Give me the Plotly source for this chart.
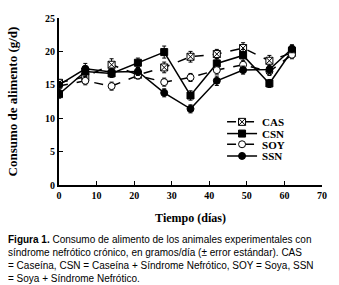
import plotly.graph_objects as go

days = [0, 7, 14, 21, 28, 35, 42, 49, 56, 62]
cas = [15.3, 16.2, 18.0, 16.5, 17.6, 19.2, 19.6, 20.5, 18.6, 19.8]
cas_se = [0.5, 0.6, 0.9, 0.6, 0.8, 0.8, 0.7, 0.8, 0.8, 0.6]
csn = [13.6, 17.0, 16.7, 18.3, 19.9, 13.4, 18.2, 19.4, 15.2, 20.1]
csn_se = [0.6, 0.8, 0.6, 0.7, 0.9, 0.7, 0.7, 0.9, 0.6, 0.7]
soy = [14.8, 15.6, 14.8, 16.4, 15.4, 16.1, 17.2, 18.0, 17.0, 19.5]
soy_se = [0.5, 0.6, 0.6, 0.5, 0.6, 0.6, 0.6, 0.6, 0.6, 0.6]
ssn = [15.0, 17.4, 16.9, 17.0, 13.8, 11.4, 15.6, 17.2, 17.3, 20.4]
ssn_se = [0.5, 0.8, 0.6, 0.6, 0.6, 0.6, 0.7, 0.6, 0.6, 0.6]

serif = "Liberation Serif, Times New Roman, serif"
sans = "Liberation Sans, Arial, sans-serif"

def tr(name, y, se, symbol, dash, fill, leg):
    return go.Scatter(
        x=days, y=y, name=name, mode="lines+markers", legend=leg,
        line=dict(color="black", width=1.5, dash=dash),
        marker=dict(symbol=symbol, size=7, color=fill,
                    line=dict(color="black", width=1)),
        error_y=dict(type="data", array=se, color="black", thickness=1, width=2),
    )

fig = go.Figure([
    tr("CAS", cas, cas_se, "square-x", "dash", "white", "legend"),
    tr("CSN", csn, csn_se, "square", "solid", "black", "legend2"),
    tr("SOY", soy, soy_se, "circle", "dash", "white", "legend3"),
    tr("SSN", ssn, ssn_se, "circle", "solid", "black", "legend4"),
])

axis_common = dict(showline=True, linecolor="black", linewidth=2, ticks="inside",
                   ticklen=4, tickcolor="black", showgrid=False, zeroline=False,
                   ticklabeloverflow="allow",
                   tickfont=dict(family=serif, size=10, color="black", weight="bold"))

def leg(ypos):
    return dict(x=0.62, y=ypos, xanchor="left", yanchor="middle",
                font=dict(family=serif, size=11, color="black", weight="bold"),
                bgcolor="rgba(0,0,0,0)", itemwidth=30)

fig.update_layout(
    width=339, height=285,
    margin=dict(l=57, r=12, t=13, b=100),
    plot_bgcolor="white", paper_bgcolor="white",
    showlegend=True,
    legend=leg(0.378), legend2=leg(0.308), legend3=leg(0.244), legend4=leg(0.174),
    xaxis=dict(range=[0, 70], tickvals=[0, 10, 20, 30, 40, 50, 60, 70],
               title=dict(text="Tiempo (días)", standoff=14,
                          font=dict(family=serif, size=12, color="black", weight="bold")),
               **axis_common),
    yaxis=dict(range=[0, 25], tickvals=[0, 5, 10, 15, 20, 25],
               title=dict(text="Consumo de alimento (g/d)", standoff=24,
                          font=dict(family=serif, size=13, color="black", weight="bold")),
               **axis_common),
)

caption = ("<b>Figura 1.</b> Consumo de alimento de los animales experimentales con<br>"
           "síndrome nefrótico crónico, en gramos/día (± error estándar). CAS<br>"
           "= Caseína, CSN = Caseína + Síndrome Nefrótico, SOY = Soya, SSN<br>"
           "= Soya + Síndrome Nefrótico.")
fig.add_annotation(text=caption, xref="paper", yref="paper",
                   x=-54/270, y=-48/172, xanchor="left", yanchor="top",
                   align="left", showarrow=False,
                   font=dict(family=sans, size=10, color="black"))

fig.write_html("out.html", config={"displayModeBar": False},
               post_script="document.body.style.margin='0';")
